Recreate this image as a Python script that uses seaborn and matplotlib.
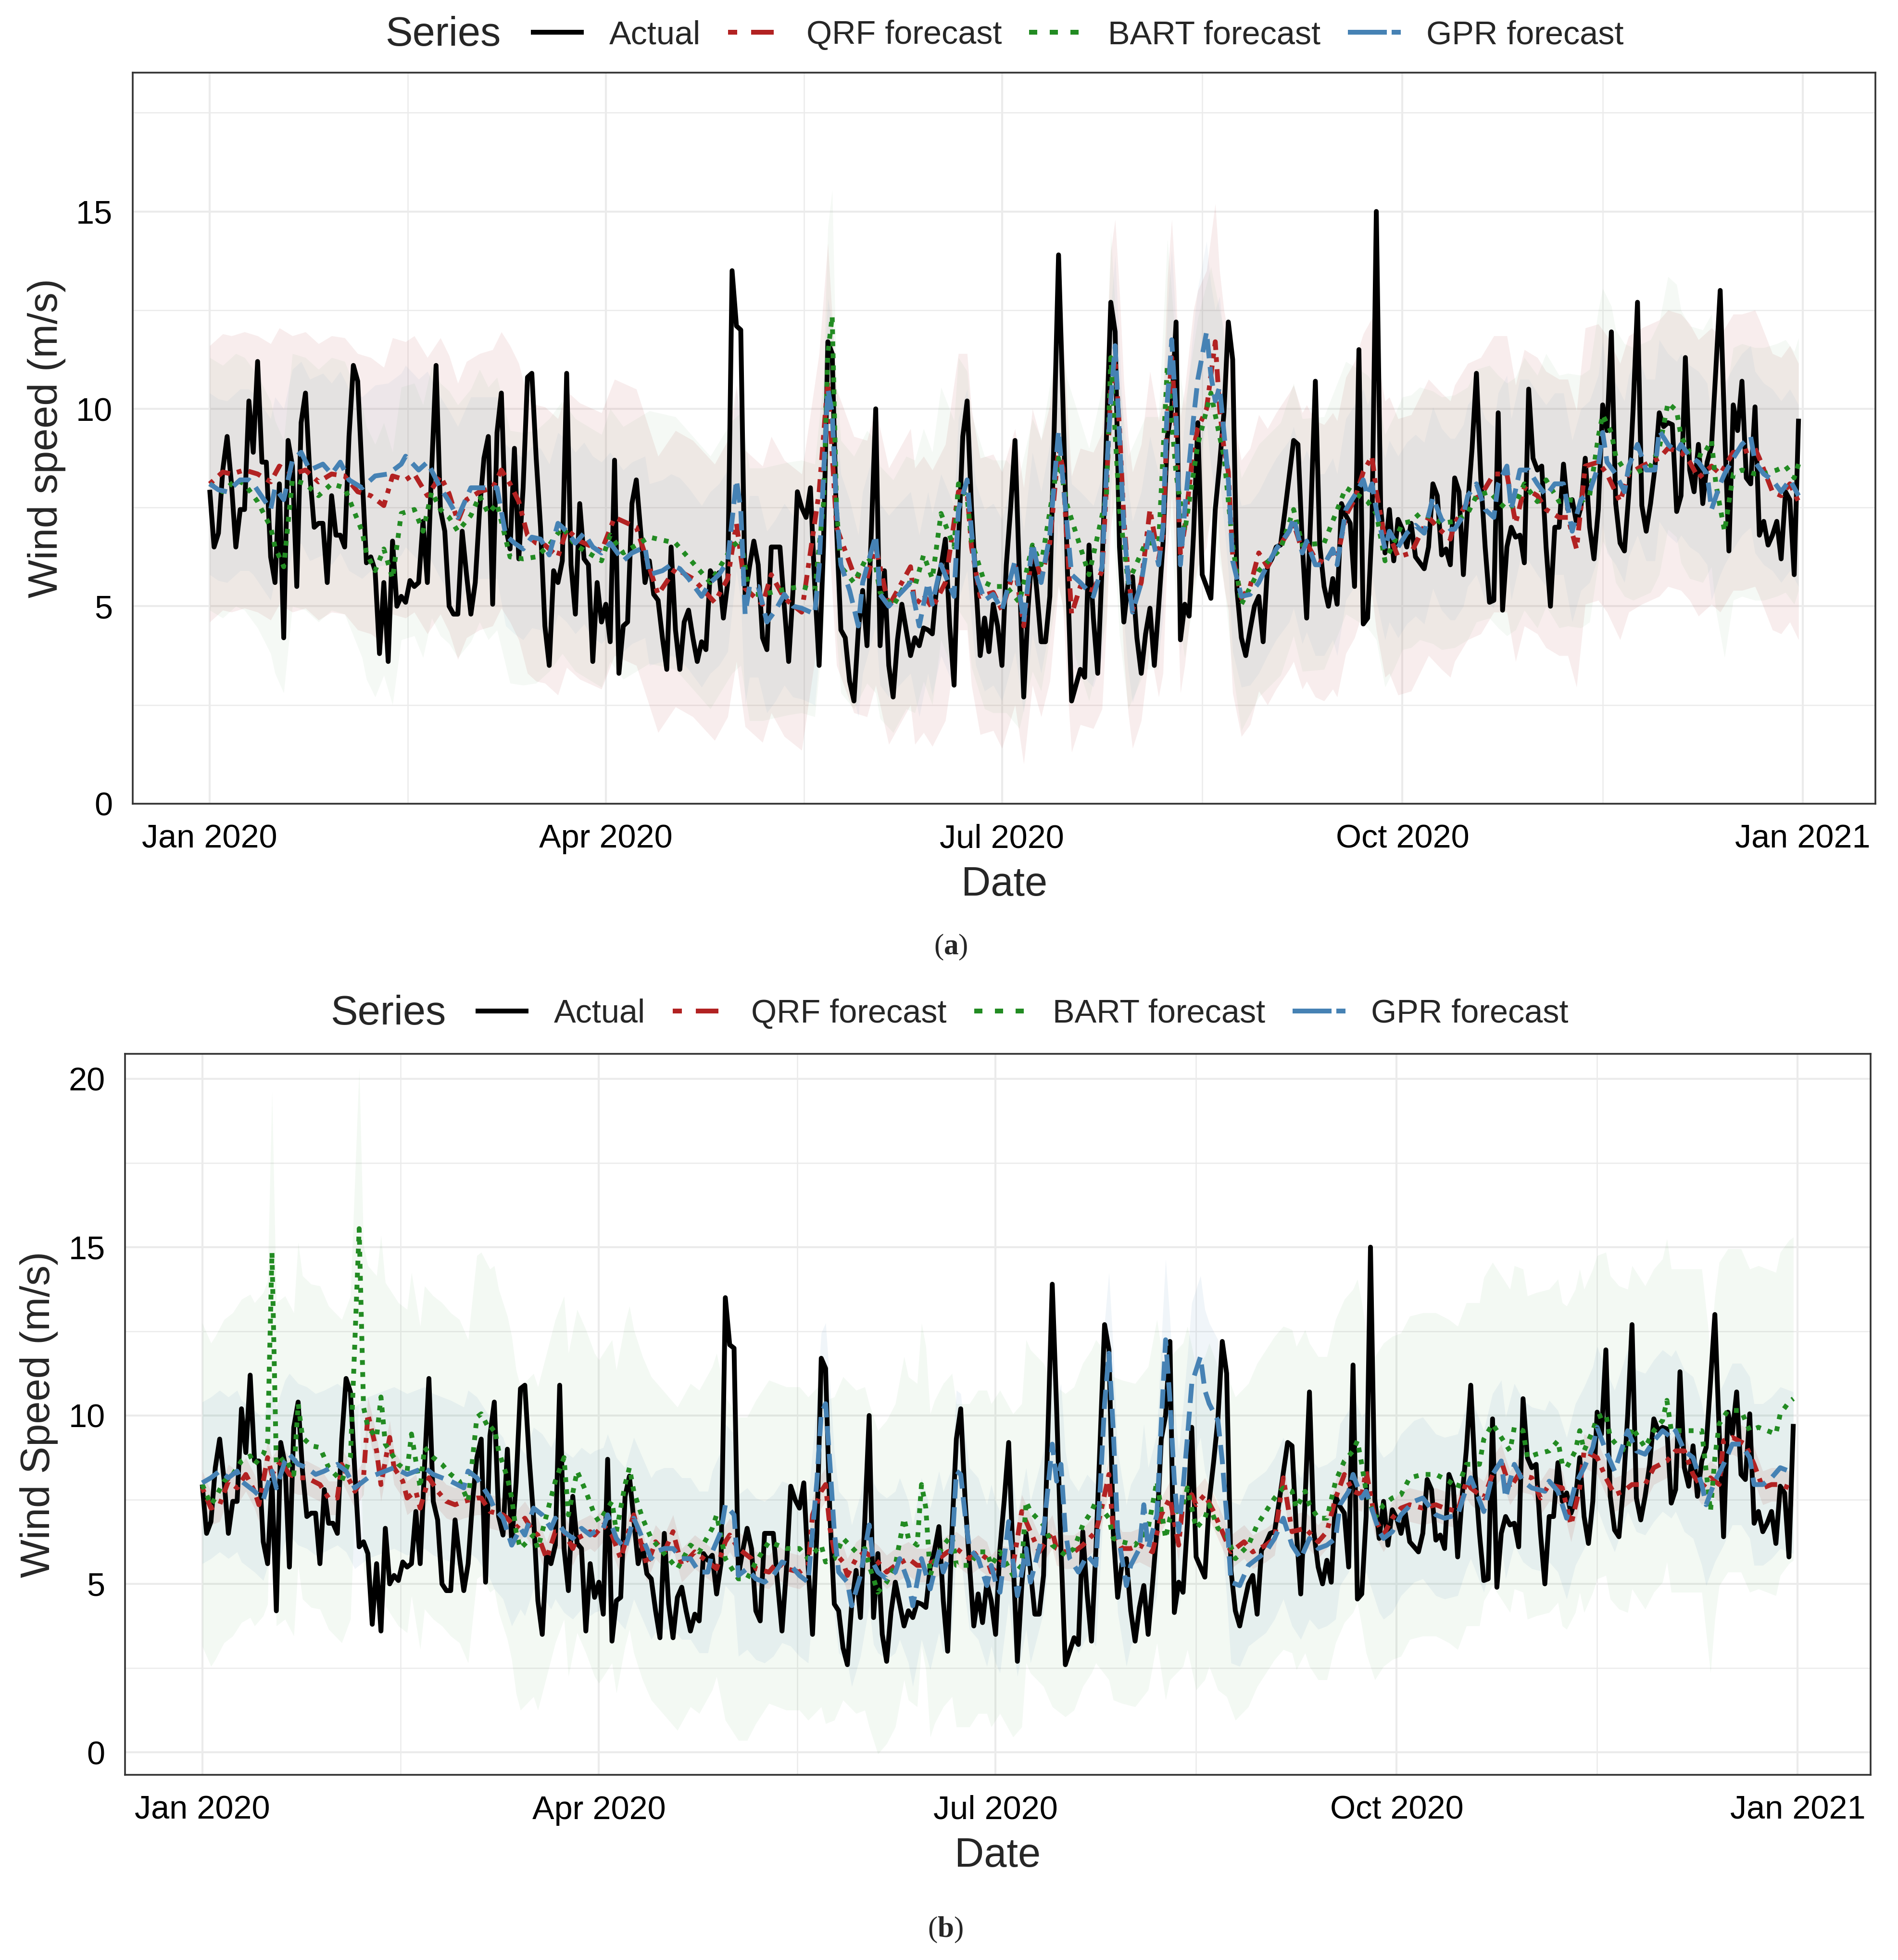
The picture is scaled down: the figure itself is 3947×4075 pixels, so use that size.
import numpy as np
import pandas as pd
import matplotlib
matplotlib.use("Agg")
import matplotlib.pyplot as plt
import matplotlib.dates as mdates
from matplotlib.lines import Line2D
import seaborn as sns

# ---------------------------------------------------------------------------
# data (daily mean wind speed 2020, m/s)
# ---------------------------------------------------------------------------
START = pd.Timestamp("2020-01-01")

actual_speed = [
    7.95, 6.5, 6.85, 8.45, 9.3, 8.1, 6.5, 7.45, 7.45, 10.2,
    8.9, 11.2, 8.65, 8.65, 6.25, 5.6, 8.1, 4.2, 9.2, 8.55,
    5.5, 9.65, 10.4, 8.35, 7.0, 7.1, 7.1, 5.6, 7.8, 6.8,
    6.8, 6.5, 9.3, 11.1, 10.7, 8.35, 6.1, 6.25, 5.9, 3.8,
    5.6, 3.6, 6.65, 5.0, 5.25, 5.1, 5.65, 5.5, 5.6, 7.15,
    5.6, 8.5, 11.1, 7.45, 6.9, 5.0, 4.8, 4.8, 6.9, 5.8,
    4.8, 5.6, 7.45, 8.75, 9.3, 5.05, 9.4, 10.4, 7.0, 6.45,
    9.0, 6.2, 8.0, 10.8, 10.9, 8.75, 7.0, 4.5, 3.5, 5.9,
    5.6, 6.15, 10.9, 6.05, 4.8, 7.6, 6.2, 6.05, 3.6, 5.6,
    4.6, 5.05, 4.1, 8.7, 3.3, 4.5, 4.6, 7.6, 8.2, 6.9,
    5.6, 6.15, 5.3, 5.15, 4.2, 3.4, 6.5, 4.4, 3.4, 4.6,
    4.9, 4.2, 3.6, 4.1, 3.9, 5.9, 5.7, 5.85, 4.7, 5.6,
    13.5, 12.1, 12.0, 5.25, 6.0, 6.65, 6.05, 4.2, 3.9, 6.5,
    6.5, 6.5, 5.0, 3.6, 5.4, 7.9, 7.5, 7.25, 8.0, 5.5,
    3.5, 6.5, 11.7, 11.4, 7.0, 4.4, 4.2, 3.1, 2.6, 4.4,
    5.4, 4.0, 6.9, 10.0, 4.0, 5.9, 3.5, 2.7, 4.15, 5.05,
    4.4, 3.75, 4.2, 4.0, 4.45, 4.4, 4.3, 5.5, 6.0, 6.7,
    4.5, 3.0, 6.6, 9.3, 10.2, 7.5, 5.6, 3.75, 4.7, 3.85,
    5.05, 4.5, 3.5, 6.05, 7.5, 9.2, 5.8, 2.7, 4.95, 6.5,
    5.4, 4.1, 4.1, 5.25, 9.5, 13.9, 10.2, 6.05, 2.6, 3.0,
    3.4, 3.2, 6.55, 4.7, 3.3, 6.0, 9.3, 12.7, 11.95, 6.5,
    4.6, 5.6, 5.75, 4.2, 3.3, 4.3, 4.95, 3.5, 5.0, 6.6,
    9.3, 10.0, 12.2, 4.15, 5.05, 4.75, 6.8, 9.65, 5.8, 5.5,
    5.2, 7.45, 8.6, 9.9, 12.2, 11.25, 5.4, 4.2, 3.75, 4.4,
    5.0, 5.25, 4.1, 6.0, 6.2, 6.5, 6.55, 7.4, 8.3, 9.2,
    9.1, 6.55, 4.7, 7.5, 10.7, 6.55, 5.5, 5.0, 5.7, 5.05,
    7.6, 7.3, 7.1, 5.5, 11.5, 4.55, 4.7, 7.0, 15.0, 7.5,
    6.35, 7.45, 6.15, 7.2, 6.95, 6.5, 7.1, 6.25, 6.1, 5.95,
    6.5, 8.1, 7.8, 6.3, 6.45, 6.05, 8.25, 7.9, 5.8, 7.55,
    9.0, 10.9, 8.25, 6.5, 5.1, 5.15, 9.9, 4.9, 6.5, 7.0,
    6.75, 6.8, 6.1, 10.5, 8.75, 8.45, 8.55, 6.5, 5.0, 7.0,
    7.0, 8.6, 7.45, 7.7, 7.1, 7.5, 8.75, 7.0, 6.2, 7.45,
    10.1, 9.45, 11.95, 7.6, 6.6, 6.4, 7.85, 10.0, 12.7, 7.55,
    6.9, 7.6, 8.5, 9.9, 9.55, 9.65, 9.6, 7.4, 7.8, 11.3,
    8.45, 7.9, 9.1, 7.6, 8.65, 9.05, 11.0, 13.0, 9.5, 6.4,
    10.1, 9.45, 10.7, 8.25, 8.1, 10.05, 6.8, 7.15, 6.55, 6.8,
    7.15, 6.2, 7.9, 7.7, 5.8, 9.75,
]

# forecasts, (day of year from Jan 1, value)
# panel (a)
top_qrf = [
    (0, 8.1), (3, 8.4), (5, 8.35), (8, 8.45), (11, 8.35), (14, 8.15), (16, 8.55), (19, 8.35),
    (22, 8.45), (25, 8.15), (28, 8.35), (31, 8.3), (34, 7.9), (37, 7.8), (40, 7.55), (42, 8.3),
    (45, 8.2), (47, 8.35), (50, 7.8), (53, 8.3), (55, 7.85), (57, 7.15), (59, 7.7), (62, 7.9),
    (65, 8.0), (67, 8.45), (69, 8.1), (71, 7.65), (73, 6.8), (75, 6.6), (77, 6.55), (80, 6.25),
    (82, 6.95), (85, 6.65), (88, 6.5), (90, 6.4),
    (93, 7.25), (98, 7.0), (103, 5.3), (107, 5.95), (111, 5.7), (116, 5.1), (119, 5.7), (121, 7.1),
    (123, 5.45), (127, 5.05), (129, 5.8), (132, 5.2), (136, 4.85), (140, 7.9), (142, 10.7), (144, 7.0),
    (148, 5.8), (151, 5.7), (153, 6.5), (156, 5.0), (161, 6.0), (162, 5.0), (164, 5.3), (166, 4.95),
    (169, 5.6), (172, 7.9), (174, 7.9), (175, 6.5), (177, 5.25), (180, 5.35),
    (182, 4.9), (185, 6.0), (187, 4.5), (189, 6.5), (191, 5.7), (193, 6.6), (195, 9.0), (196, 8.5),
    (197, 6.5), (198, 4.8), (200, 5.5), (203, 5.4), (205, 5.9), (206, 8.0), (207, 10.5), (208, 11.3),
    (209, 9.5), (210, 7.2), (211, 5.8), (212, 4.9), (214, 5.6), (216, 7.45), (218, 6.2), (219, 6.8),
    (220, 9.8), (221, 11.3), (222, 9.5), (223, 6.3), (224, 7.0), (226, 9.0), (227, 9.5), (229, 10.0),
    (231, 11.7), (232, 10.0), (233, 9.0), (234, 8.4), (235, 6.3), (237, 5.2), (239, 5.5), (241, 6.35),
    (243, 6.0), (245, 6.4), (248, 6.9), (249, 7.1), (251, 6.4), (252, 6.6), (254, 6.2), (256, 6.1),
    (258, 6.4), (259, 6.2), (261, 7.3), (263, 7.7), (265, 8.4), (266, 8.6), (267, 8.8), (268, 7.9),
    (270, 6.7), (271, 6.8),
    (273, 6.25), (276, 6.35), (280, 7.25), (283, 6.9), (285, 6.7), (286, 7.1), (289, 7.65), (292, 7.8),
    (295, 8.35), (298, 8.35), (300, 7.1), (302, 8.0), (305, 7.8), (307, 7.45), (310, 7.25), (312, 7.25),
    (314, 6.45), (316, 8.55), (319, 8.65), (321, 8.35), (324, 7.65), (326, 8.35), (329, 8.55), (331, 8.65),
    (333, 8.75), (335, 9.0), (338, 8.9), (340, 8.65), (342, 8.25), (345, 8.55), (347, 8.35), (350, 8.9),
    (352, 8.9), (355, 9.0), (356, 8.75), (359, 7.9), (361, 7.8), (363, 8.1), (365, 7.65),
]
top_bart = [
    (0, 8.1), (3, 7.9), (6, 8.2), (8, 8.1), (11, 7.65), (14, 7.0), (15, 6.5), (17, 6.0),
    (19, 8.2), (22, 8.1), (25, 7.8), (28, 8.1), (31, 8.0), (33, 7.45), (35, 6.9), (36, 6.35),
    (38, 5.9), (40, 6.45), (42, 5.7), (44, 7.35), (47, 7.45), (49, 6.9), (51, 7.9), (53, 7.45),
    (55, 7.25), (57, 6.9), (60, 7.3), (62, 7.8), (64, 7.35), (66, 7.6), (69, 6.25), (72, 6.2),
    (75, 6.25), (78, 6.55), (81, 7.0), (84, 6.55), (87, 6.35), (90, 6.15),
    (92, 6.8), (95, 6.35), (101, 6.75), (107, 6.6), (111, 6.1), (115, 5.6), (120, 6.5), (122, 6.7),
    (124, 5.3), (127, 5.3), (133, 5.45), (136, 5.5), (139, 5.4), (141, 7.6), (142, 11.4), (143, 12.35),
    (144, 7.45), (145, 6.0), (148, 5.6), (151, 6.25), (153, 6.0), (154, 5.35), (157, 5.0), (160, 5.6),
    (162, 5.5), (164, 6.3), (166, 5.7), (168, 7.35), (171, 6.5), (172, 8.1), (174, 7.75), (175, 6.65),
    (178, 5.6), (180, 5.5),
    (183, 5.5), (186, 5.1), (189, 6.55), (191, 6.05), (195, 8.75), (197, 7.55), (202, 5.8), (206, 7.8),
    (207, 11.3), (209, 7.45), (211, 5.6), (215, 6.6), (218, 6.6), (220, 11.1), (222, 8.35), (224, 6.9),
    (227, 9.1), (230, 10.4), (232, 9.3), (233, 8.8), (235, 6.55), (237, 5.05), (241, 5.9), (246, 6.45),
    (249, 7.45), (251, 6.55), (256, 6.6), (261, 8.0), (264, 7.8), (266, 7.65), (268, 7.35), (270, 6.15),
    (272, 6.6), (274, 7.1), (276, 7.15), (278, 7.35), (281, 7.25), (283, 7.1), (286, 7.15), (289, 7.35),
    (291, 7.8), (294, 7.9), (296, 7.65), (298, 7.45), (300, 7.6), (302, 8.1), (305, 7.65), (307, 8.2),
    (310, 7.65), (312, 7.7), (315, 7.65), (317, 7.8), (319, 9.3), (320, 9.85), (322, 9.4), (323, 8.8),
    (325, 8.45), (327, 8.35), (329, 8.45), (331, 8.55), (333, 9.0), (335, 10.15), (337, 9.95), (338, 9.3),
    (340, 8.9), (343, 8.8), (345, 9.2), (346, 8.1), (348, 6.9), (350, 8.35), (352, 8.45), (355, 8.35),
    (357, 8.35), (360, 8.45), (362, 8.55), (364, 8.25), (365, 8.6),
]
top_gpr = [
    (0, 8.1), (2, 7.95), (4, 7.9), (7, 8.2), (9, 8.2), (10, 8.1), (14, 7.45), (15, 8.0),
    (17, 7.7), (19, 8.7), (21, 8.9), (23, 8.45), (26, 8.6), (28, 8.35), (30, 8.65), (32, 8.2),
    (35, 8.0), (38, 8.3), (41, 8.35), (44, 8.6), (45, 8.8), (48, 8.45), (50, 8.65), (53, 8.0),
    (55, 7.65), (57, 7.25), (60, 8.0), (63, 8.0), (66, 8.0), (68, 6.8), (70, 6.6), (72, 6.45),
    (74, 6.75), (76, 6.7), (78, 6.3), (80, 7.1), (82, 6.9), (84, 6.6), (86, 6.85), (88, 6.5),
    (90, 6.35),
    (92, 6.6), (95, 6.15), (97, 6.35), (100, 6.5), (101, 5.8), (104, 5.9), (106, 6.05), (108, 5.95),
    (110, 5.7), (113, 5.25), (115, 5.6), (117, 5.8), (119, 6.15), (121, 8.2), (122, 7.45), (123, 4.8),
    (124, 5.5), (126, 5.5), (128, 4.6), (130, 4.9), (132, 5.3), (134, 5.0), (136, 4.95), (139, 4.8),
    (140, 6.0), (141, 8.3), (142, 10.5), (143, 9.9), (144, 7.45), (145, 6.05), (147, 5.4), (149, 4.5),
    (150, 5.6), (153, 6.8), (154, 5.3), (156, 5.0), (158, 5.25), (161, 5.6), (163, 4.5), (165, 5.6),
    (166, 5.05), (168, 6.05), (171, 5.25), (172, 7.45), (174, 8.2), (175, 6.9), (176, 5.8), (178, 5.15),
    (180, 5.3),
    (182, 4.9), (185, 6.15), (187, 4.6), (189, 6.6), (191, 5.6), (193, 6.8), (195, 9.45), (196, 8.2),
    (197, 7.0), (198, 5.8), (200, 5.6), (203, 5.25), (205, 6.0), (206, 8.35), (207, 10.2), (208, 11.6),
    (209, 9.3), (210, 7.0), (211, 5.7), (212, 4.85), (214, 5.6), (216, 7.0), (218, 6.05), (219, 7.0),
    (220, 10.2), (221, 11.75), (222, 9.85), (223, 6.05), (224, 7.45), (226, 9.75), (227, 10.75), (229, 11.95),
    (230, 10.85), (231, 10.2), (232, 10.55), (233, 9.4), (234, 8.2), (235, 6.15), (237, 5.25), (239, 5.3),
    (241, 5.6), (243, 6.05), (245, 6.45), (248, 6.9), (249, 7.25), (251, 6.35), (252, 6.65), (254, 6.05),
    (256, 6.05), (258, 6.45), (259, 6.05), (261, 7.45), (263, 7.8), (265, 8.2), (266, 7.8), (267, 8.1),
    (268, 7.45), (270, 6.45), (271, 6.9),
    (273, 6.5), (275, 6.85), (277, 7.05), (279, 6.85), (281, 7.75), (283, 7.2), (285, 6.95), (286, 6.95),
    (288, 7.3), (289, 7.8), (291, 8.1), (293, 7.45), (295, 7.25), (296, 8.1), (298, 8.55), (299, 7.45),
    (301, 8.45), (303, 8.45), (305, 8.1), (307, 7.8), (309, 8.1), (311, 8.1), (313, 6.9), (315, 7.7),
    (317, 7.9), (319, 8.55), (320, 9.4), (321, 8.65), (323, 8.35), (325, 7.9), (326, 8.55), (328, 9.1),
    (330, 8.45), (332, 8.45), (333, 9.45), (335, 9.1), (337, 8.9), (338, 9.1), (340, 8.8), (342, 8.65),
    (344, 8.35), (345, 7.45), (347, 8.1), (348, 8.35), (350, 8.75), (352, 9.1), (354, 9.3), (355, 8.65),
    (357, 8.35), (359, 8.2), (361, 7.9), (363, 8.2), (365, 7.8),
]

# panel (b)
bottom_qrf = [
    (0, 7.85), (2, 7.25), (4, 7.35), (6, 8.05), (8, 7.85), (10, 8.25), (12, 7.75), (13, 7.35),
    (15, 8.75), (16, 8.25), (18, 8.65), (20, 8.25), (22, 8.15), (24, 8.15), (27, 7.95), (29, 7.55),
    (31, 7.55), (32, 8.55), (35, 7.75), (37, 8.15), (38, 10.05), (40, 8.95), (41, 7.95), (43, 9.35),
    (44, 8.45), (46, 8.05), (47, 7.55), (49, 7.75), (50, 7.25), (52, 8.15), (54, 7.75), (56, 7.45),
    (58, 7.35), (60, 7.45), (63, 7.55), (64, 7.55), (66, 7.15), (69, 7.05), (70, 6.95), (72, 6.65),
    (74, 6.95), (76, 6.55), (77, 6.45), (79, 5.75), (81, 6.55), (83, 6.55), (85, 6.05), (86, 6.35),
    (89, 6.55), (90, 6.45),
    (92, 6.75), (94, 6.45), (96, 5.75), (98, 6.65), (99, 7.05), (100, 6.55), (102, 5.55), (104, 6.25),
    (106, 5.95), (108, 6.55), (110, 5.55), (113, 5.95), (116, 5.65), (118, 5.45), (120, 6.25), (121, 6.45),
    (123, 6.05), (126, 5.75), (127, 5.45), (130, 5.35), (132, 5.65), (134, 5.45), (137, 5.35), (139, 5.55),
    (140, 7.05), (142, 7.75), (143, 7.95), (144, 6.65), (145, 5.95), (147, 5.65), (148, 5.25), (150, 5.75),
    (152, 5.95), (155, 5.65), (157, 5.35), (159, 5.55), (162, 5.75), (164, 5.55), (166, 5.55), (169, 5.75),
    (171, 5.95), (173, 6.05), (176, 5.75), (178, 5.95), (180, 5.75),
    (181, 5.35), (183, 5.65), (186, 5.55), (188, 7.15), (190, 6.55), (192, 5.95), (195, 6.55), (196, 6.05),
    (198, 5.95), (200, 5.95), (202, 6.15), (205, 6.55), (206, 7.05), (208, 8.25), (209, 6.55), (211, 6.05),
    (213, 6.05), (215, 6.15), (218, 5.95), (220, 7.05), (222, 7.55), (224, 6.15), (225, 7.45), (227, 7.65),
    (228, 7.35), (230, 7.65), (232, 7.15), (234, 6.55), (236, 5.95), (239, 6.25), (241, 5.95), (244, 6.15),
    (246, 6.35), (248, 8.15), (250, 6.55), (253, 6.65), (256, 6.25), (258, 6.55), (260, 7.55), (262, 8.25),
    (264, 7.75), (266, 7.65), (267, 8.35), (269, 6.95),
    (271, 6.45), (273, 6.95), (275, 7.25), (277, 7.35), (280, 7.25), (283, 7.35), (285, 7.25), (288, 7.15),
    (290, 8.05), (291, 7.85), (294, 7.55), (296, 8.25), (298, 8.65), (300, 7.85), (302, 8.25), (305, 8.15),
    (307, 7.55), (309, 7.95), (312, 7.85), (314, 6.75), (316, 7.85), (317, 8.95), (320, 8.75), (322, 8.15),
    (324, 7.65), (326, 7.75), (328, 7.95), (331, 7.95), (333, 8.45), (336, 8.65), (338, 8.95), (340, 8.95),
    (342, 8.25), (344, 7.85), (346, 8.15), (348, 7.95), (349, 9.25), (351, 9.35), (354, 9.15), (356, 8.55),
    (358, 7.85), (360, 7.95), (362, 7.95), (364, 7.85), (365, 7.8),
]
bottom_bart = [
    (0, 7.95), (2, 7.35), (3, 7.55), (5, 8.05), (7, 8.25), (9, 8.65), (11, 8.8), (12, 8.55),
    (14, 8.85), (15, 9.2), (16, 14.85), (17, 8.55), (19, 8.75), (21, 8.25), (22, 10.35), (23, 9.35),
    (25, 9.1), (27, 9.05), (29, 8.45), (32, 8.05), (34, 8.75), (36, 15.55), (37, 10.25), (38, 9.65),
    (40, 9.35), (41, 10.55), (42, 9.15), (45, 8.55), (47, 8.35), (48, 9.45), (50, 7.85), (51, 9.05),
    (53, 8.75), (55, 8.55), (57, 8.25), (59, 8.05), (61, 7.45), (63, 9.95), (64, 10.05), (66, 9.55),
    (67, 9.65), (68, 8.95), (70, 8.15), (71, 7.55), (72, 6.55), (73, 6.05), (76, 6.45), (77, 6.05),
    (79, 7.05), (81, 8.05), (83, 8.75), (84, 7.05), (86, 8.35), (88, 7.75), (90, 7.05),
    (91, 6.85), (94, 7.45), (95, 6.55), (97, 7.95), (98, 8.45), (99, 7.75), (101, 6.95), (103, 6.35),
    (105, 6.05), (107, 5.75), (109, 5.45), (112, 6.15), (114, 5.95), (117, 6.65), (118, 7.05), (120, 5.75),
    (123, 5.15), (125, 5.15), (127, 5.65), (130, 6.25), (132, 6.15), (134, 6.05), (137, 6.05), (139, 5.75),
    (142, 6.15), (143, 5.65), (145, 5.75), (147, 6.35), (150, 5.95), (152, 6.05), (153, 5.55), (155, 4.75),
    (157, 5.05), (159, 5.55), (160, 6.25), (161, 6.95), (162, 6.35), (164, 6.15), (165, 7.95), (166, 7.25),
    (167, 5.25), (168, 5.65), (170, 6.15), (172, 6.45), (173, 5.55), (176, 5.55), (178, 5.95), (180, 5.95),
    (181, 5.55), (183, 5.95), (186, 5.25), (188, 5.55), (189, 7.45), (190, 7.15), (193, 6.75), (195, 6.15),
    (198, 5.85), (200, 6.05), (202, 6.75), (204, 7.15), (205, 7.45), (208, 6.95), (209, 6.35), (211, 6.25),
    (214, 6.15), (217, 6.65), (219, 8.05), (221, 6.35), (222, 6.95), (225, 7.35), (226, 7.85), (228, 6.65),
    (230, 6.95), (231, 7.35), (233, 6.65), (235, 6.45), (237, 5.75), (240, 6.15), (242, 6.75), (244, 7.15),
    (246, 7.55), (248, 7.85), (250, 7.75), (251, 7.25), (253, 7.75), (254, 7.35), (256, 6.95), (258, 6.95),
    (260, 8.05), (262, 8.65), (264, 8.95), (265, 9.25), (266, 8.55), (267, 7.75), (269, 6.95),
    (271, 7.35), (273, 7.55), (275, 7.65), (277, 8.15), (280, 8.25), (283, 8.25), (286, 8.05), (288, 7.85),
    (290, 8.55), (293, 8.55), (294, 9.3), (296, 9.75), (298, 9.35), (300, 8.95), (301, 9.65), (303, 9.55),
    (304, 8.75), (306, 8.85), (309, 8.95), (311, 9.25), (312, 8.55), (313, 8.45), (315, 8.95), (316, 9.55),
    (317, 8.95), (319, 9.55), (320, 9.95), (322, 10.05), (323, 9.35), (325, 9.05), (327, 8.95), (328, 9.65),
    (331, 9.05), (333, 9.55), (335, 9.85), (336, 10.45), (337, 9.55), (339, 9.55), (341, 9.55), (344, 9.55),
    (346, 7.15), (347, 8.75), (348, 9.75), (350, 10.15), (351, 10.15), (353, 10.15), (355, 9.55), (357, 9.65),
    (359, 9.55), (361, 9.45), (362, 10.05), (364, 10.4), (365, 10.5),
]
bottom_gpr = [
    (0, 8.0), (2, 8.15), (4, 8.35), (6, 8.15), (8, 8.35), (9, 8.05), (12, 7.75), (14, 7.5),
    (16, 8.35), (17, 7.85), (19, 8.65), (20, 8.85), (22, 8.55), (24, 8.45), (26, 8.25), (28, 8.35),
    (31, 8.55), (33, 8.35), (35, 7.85), (38, 8.15), (40, 8.25), (42, 8.35), (44, 8.45), (47, 8.25),
    (49, 8.35), (51, 8.45), (53, 8.25), (55, 8.15), (57, 8.05), (60, 7.85), (61, 8.35), (63, 8.15),
    (66, 7.55), (67, 7.25), (69, 6.95), (71, 6.15), (73, 6.65), (74, 6.45), (76, 7.25), (78, 7.05),
    (80, 6.65), (81, 6.95), (83, 6.55), (85, 6.35), (87, 6.65), (89, 6.45), (90, 6.55),
    (92, 6.65), (93, 7.05), (95, 6.35), (97, 6.05), (99, 6.95), (101, 6.35), (103, 5.75), (104, 5.95),
    (106, 6.05), (108, 6.05), (110, 5.75), (112, 5.75), (114, 5.35), (116, 5.35), (117, 5.95), (119, 6.55),
    (120, 7.35), (122, 7.05), (123, 5.25), (125, 5.45), (127, 5.15), (129, 5.05), (131, 5.25), (133, 5.65),
    (135, 5.55), (137, 5.25), (139, 5.05), (140, 6.55), (141, 8.05), (142, 10.05), (143, 10.35), (144, 8.55),
    (145, 6.55), (146, 5.35), (148, 5.05), (149, 4.35), (151, 5.25), (153, 6.75), (154, 5.6), (155, 5.35),
    (157, 5.15), (159, 5.35), (160, 5.75), (162, 5.05), (163, 4.35), (165, 5.75), (167, 4.85), (169, 5.95),
    (170, 5.35), (172, 6.05), (173, 8.35), (174, 8.25), (175, 7.05), (176, 6.05), (178, 5.75), (180, 4.95),
    (181, 5.55),
    (182, 5.05), (183, 4.75), (185, 6.85), (186, 5.65), (187, 4.65), (189, 6.05), (190, 5.05), (192, 6.05),
    (193, 6.55), (195, 9.15), (196, 8.05), (197, 8.55), (198, 6.55), (199, 5.75), (201, 5.35), (203, 5.85),
    (205, 5.55), (206, 7.85), (207, 10.35), (208, 11.85), (209, 9.55), (210, 6.55), (212, 4.95), (213, 5.55),
    (215, 6.05), (216, 7.35), (217, 6.05), (219, 7.05), (220, 9.75), (221, 12.25), (222, 10.45), (223, 8.05),
    (224, 6.55), (225, 7.85), (226, 9.35), (227, 10.95), (229, 11.75), (230, 10.75), (231, 10.35), (233, 9.85),
    (234, 8.65), (235, 7.05), (236, 5.05), (238, 4.95), (240, 5.55), (242, 5.75), (244, 5.95), (246, 6.35),
    (248, 6.95), (250, 6.15), (252, 5.75), (254, 6.35), (256, 6.05), (258, 6.15), (260, 6.35), (261, 7.35),
    (263, 7.75), (264, 8.25), (266, 7.55), (267, 7.75), (269, 6.95), (270, 6.55),
    (271, 6.35), (273, 6.55), (275, 7.05), (278, 7.45), (280, 7.55), (283, 7.05), (285, 6.95), (288, 7.05),
    (290, 7.85), (291, 8.15), (294, 7.15), (296, 8.25), (298, 8.65), (299, 7.55), (301, 8.55), (303, 8.05),
    (305, 7.85), (308, 7.75), (309, 8.05), (311, 7.75), (313, 6.95), (315, 7.95), (317, 8.45), (319, 9.05),
    (320, 9.65), (322, 8.95), (324, 8.35), (325, 8.75), (327, 9.55), (329, 8.95), (331, 8.85), (333, 9.25),
    (335, 9.55), (337, 9.35), (338, 9.55), (340, 8.95), (342, 8.75), (344, 7.95), (345, 7.35), (347, 8.05),
    (349, 8.55), (351, 9.15), (353, 9.15), (355, 8.75), (356, 7.95), (358, 7.95), (360, 8.15), (362, 8.45),
    (364, 8.35), (365, 8.3),
]

# half width of the shaded prediction intervals (m/s)
top_qrf_band, top_bart_band, top_gpr_band = 3.5, 3.2, 2.3
bottom_qrf_band, bottom_bart_band, bottom_gpr_band = 0.5, 4.8, 2.4

series_labels = ["Actual", "QRF forecast", "BART forecast", "GPR forecast"]

RED, GREEN, BLUE = "#B22222", "#228B22", "#4682B4"
LW = 3.6
# dash patterns (in line widths) as they appear in the panels ...
DOTDASH, DOTTED, LONGDASH = (1, 1.5, 2.7, 1.5), (1, 1.5), (4, 1.8)
# ... and in the legend keys
KEY_DOTDASH, KEY_DOTTED, KEY_LONGDASH = (1.9, 2.9, 4.7, 2.9), (1.7, 2.6), (8.1, 1.0)

# ---------------------------------------------------------------------------
sns.set_style("white")
plt.rcParams["font.family"] = ["Liberation Sans", "DejaVu Sans"]
plt.rcParams["mathtext.fontset"] = "custom"
plt.rcParams["mathtext.rm"] = "Liberation Serif"
plt.rcParams["mathtext.bf"] = "Liberation Serif:bold"

BASE = 30.5
SMALL = 24.6


def as_frame(pairs):
    df = pd.DataFrame(pairs, columns=["day", "speed"])
    df["date"] = START + pd.to_timedelta(df["day"], unit="D")
    return df


actual_df = pd.DataFrame({
    "date": pd.date_range(START, periods=len(actual_speed), freq="D"),
    "speed": actual_speed,
})


def draw_panel(ax, qrf, bart, gpr, bands, alphas, ylabel, ylim, ymax_tick):
    models = [(qrf, RED, DOTDASH), (bart, GREEN, DOTTED), (gpr, BLUE, LONGDASH)]
    for (pairs, color, _), hw, al in zip(models, bands, alphas):
        df = as_frame(pairs)
        ax.fill_between(df["date"], df["speed"] - hw, df["speed"] + hw,
                        color=color, alpha=al, linewidth=0)

    sns.lineplot(data=actual_df, x="date", y="speed", ax=ax, color="black",
                 linewidth=LW, estimator=None, solid_capstyle="butt")
    for pairs, color, dash in models:
        sns.lineplot(data=as_frame(pairs), x="date", y="speed", ax=ax, color=color,
                     linewidth=LW, linestyle=(0, dash), dash_capstyle="butt",
                     estimator=None)

    # axes cosmetics, theme_bw look
    first = mdates.date2num(START)
    last = mdates.date2num(START + pd.Timedelta(days=len(actual_speed) - 1))
    ax.set_xlim(first - 17.7, last + 17.7)
    ax.set_ylim(*ylim)

    majors = mdates.date2num(pd.to_datetime(
        ["2020-01-01", "2020-04-01", "2020-07-01", "2020-10-01", "2021-01-01"]))
    ax.set_xticks(majors)
    ax.set_xticks((majors[:-1] + majors[1:]) / 2, minor=True)
    ax.xaxis.set_major_formatter(mdates.DateFormatter("%b %Y"))
    ax.set_yticks(np.arange(0, ymax_tick + 1, 5))
    ax.set_yticks(np.arange(2.5, ylim[1], 5), minor=True)

    ax.set_axisbelow(True)
    ax.grid(which="major", color="#EBEBEB", linewidth=1.5)
    ax.grid(which="minor", color="#EBEBEB", linewidth=0.9)
    for sp in ax.spines.values():
        sp.set_color("#333333")
        sp.set_linewidth(1.3)
    ax.tick_params(which="major", length=7.5, width=1.4, color="#333333",
                   pad=7.5, labelsize=SMALL, labelcolor="black")
    ax.tick_params(which="minor", length=0)
    ax.set_xlabel("Date", fontsize=BASE, labelpad=8.5)
    ax.set_ylabel(ylabel, fontsize=BASE, labelpad=7.5)


fig = plt.figure(figsize=(19.735, 20.375), dpi=200)
ax_a = fig.add_axes([0.0699, 0.5900, 0.9183, 0.3730])
ax_b = fig.add_axes([0.0659, 0.0945, 0.9196, 0.3678])

draw_panel(ax_a, top_qrf, top_bart, top_gpr,
           (top_qrf_band, top_bart_band, top_gpr_band), (0.08, 0.045, 0.06),
           "Wind speed (m/s)", (0, 18.52), 15)
draw_panel(ax_b, bottom_qrf, bottom_bart, bottom_gpr,
           (bottom_qrf_band, bottom_bart_band, bottom_gpr_band), (0.10, 0.05, 0.08),
           "Wind Speed (m/s)", (-0.67, 20.74), 20)

handles = [
    Line2D([], [], color="black", linewidth=LW, solid_capstyle="butt"),
    Line2D([], [], color=RED, linewidth=LW, linestyle=(0, KEY_DOTDASH), dash_capstyle="butt"),
    Line2D([], [], color=GREEN, linewidth=LW, linestyle=(0, KEY_DOTTED), dash_capstyle="butt"),
    Line2D([], [], color=BLUE, linewidth=LW, linestyle=(0, KEY_LONGDASH), dash_capstyle="butt"),
]
for title_x, legend_x, y in [(0.2030, 0.2796, 0.9820), (0.1740, 0.2505, 0.4828)]:
    fig.text(title_x, y, "Series", fontsize=BASE, va="center", ha="left")
    fig.legend(handles, series_labels, loc="center left", bbox_to_anchor=(legend_x, y),
               ncol=4, frameon=False, fontsize=SMALL, handlelength=1.61,
               handletextpad=0.78, columnspacing=0.83, borderpad=0, borderaxespad=0)

fig.text(0.501, 0.5166, r"($\mathbf{a}$)", fontsize=22, ha="center", va="center",
         family="Liberation Serif")
fig.text(0.498, 0.0153, r"($\mathbf{b}$)", fontsize=22, ha="center", va="center",
         family="Liberation Serif")

fig.savefig("out.png", dpi=200, facecolor="white")
